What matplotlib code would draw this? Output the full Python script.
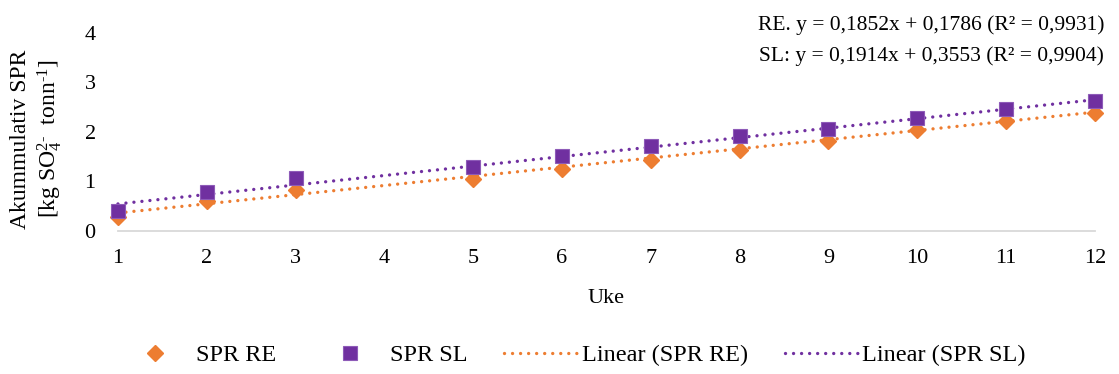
import matplotlib
matplotlib.use("Agg")
import matplotlib.pyplot as plt
import numpy as np

plt.rcParams['font.family'] = ['Liberation Serif', 'DejaVu Serif']
plt.rcParams['mathtext.fontset'] = 'custom'
plt.rcParams['mathtext.rm'] = 'Liberation Serif'
plt.rcParams['mathtext.it'] = 'Liberation Serif:italic'
plt.rcParams['mathtext.default'] = 'rm'

# weekly cumulative SPR, week 4 not measured
uke = [1, 2, 3, 5, 6, 7, 8, 9, 10, 11, 12]
spr_re = [0.29, 0.61, 0.83, 1.05, 1.25, 1.43, 1.64, 1.82, 2.04, 2.23, 2.39]
spr_sl = [0.40, 0.79, 1.08, 1.30, 1.52, 1.72, 1.91, 2.07, 2.28, 2.46, 2.63]

# linear fits (slope, intercept, r2)
fit_re = (0.1852, 0.1786, 0.9931)
fit_sl = (0.1914, 0.3553, 0.9904)

x_ticks = list(range(1, 13))
y_ticks = [0, 1, 2, 3, 4]

orange = '#ED7D31'
purple = '#7030A0'
fs = 16

fig = plt.figure(figsize=(11.19, 3.74), dpi=100)
ax = fig.add_axes([0.1054, 0.3824, 0.8731, 0.5294])

xf = np.array([uke[0], uke[-1]])
dots = (0, (0.01, 2.4))
ax.plot(xf, fit_re[0] * xf + fit_re[1], color=orange, lw=2.4, ls=dots,
        dash_capstyle='round', label='Linear (SPR RE)', zorder=2, clip_on=False)
ax.plot(xf, fit_sl[0] * xf + fit_sl[1], color=purple, lw=2.4, ls=dots,
        dash_capstyle='round', label='Linear (SPR SL)', zorder=2, clip_on=False)

re_pts = ax.plot(uke, spr_re, ls='none', marker='D', ms=8.2, color=orange,
                 mec=orange, label='SPR RE', zorder=3, clip_on=False)[0]
sl_pts = ax.plot(uke, spr_sl, ls='none', marker='s', ms=10.5, color=purple,
                 mec='#8E5BB8', mew=0.8, label='SPR SL', zorder=4, clip_on=False)[0]

ax.set_xlim(1, 12)
ax.set_ylim(0, 4)
ax.set_xticks(x_ticks)
ax.set_yticks(y_ticks)
ax.tick_params(length=0, labelsize=fs)
ax.tick_params(axis='y', pad=16)
ax.tick_params(axis='x', pad=13)
for s in ['top', 'right', 'left']:
    ax.spines[s].set_visible(False)
ax.spines['bottom'].set_color('#D9D9D9')
ax.spines['bottom'].set_linewidth(1.3)

ax.set_xlabel('Uke', fontsize=fs, labelpad=15)

fig.text(37 / 1119, 1 - 139 / 374,
         'Akummulativ SPR\n[kg SO$_4^{2\\text{-}}$  tonn$^{\\text{-}1}$]',
         rotation=90, ha='center', va='center', fontsize=fs + 1,
         multialignment='center')

eq_re = 'RE. y = ' + f'{fit_re[0]:.4f}x + {fit_re[1]:.4f} (R² = {fit_re[2]:.4f})'.replace('.', ',')
eq_sl = 'SL: y = ' + f'{fit_sl[0]:.4f}x + {fit_sl[1]:.4f} (R² = {fit_sl[2]:.4f})'.replace('.', ',')
fig.text(1104 / 1119, 1 - 25 / 374, eq_re, ha='right', va='center', fontsize=15.5)
fig.text(1104 / 1119, 1 - 56 / 374, eq_sl, ha='right', va='center', fontsize=15.5)

handles = [re_pts, sl_pts] + ax.get_lines()[:2]
fig.legend(handles, [h.get_label() for h in handles], loc='center',
           bbox_to_anchor=(572 / 1119, 1 - 355 / 374), ncol=4, frameon=False,
           fontsize=17.5, handlelength=3.05, handletextpad=0.15, columnspacing=1.5)

fig.savefig('out.png', dpi=100)
